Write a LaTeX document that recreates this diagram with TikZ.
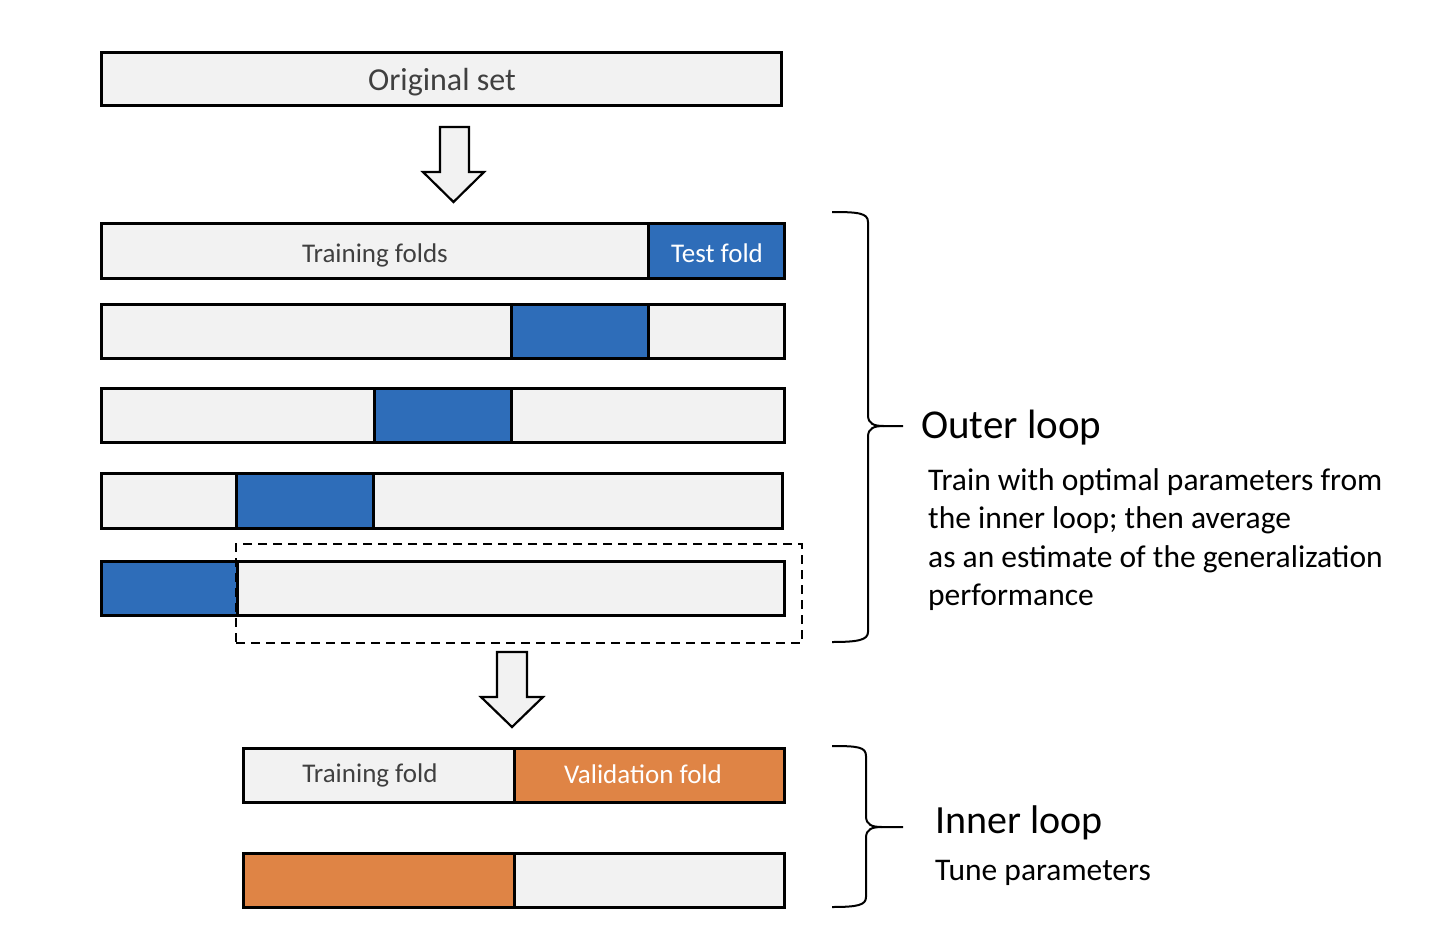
\documentclass[tikz,border=0pt]{standalone}
\usepackage{fontspec}
\setmainfont{Carlito}
\definecolor{lgray}{HTML}{F2F2F2}
\definecolor{fblue}{HTML}{2E6DB9}
\definecolor{forange}{HTML}{DF8445}
\definecolor{tgray}{HTML}{404040}
\begin{document}
\begin{tikzpicture}[x=1pt,y=-1pt,
  seg/.style={draw=black, line width=3pt, inner sep=0pt, outer sep=0pt, anchor=center},
  gseg/.style={seg, fill=lgray},
  bseg/.style={seg, fill=fblue},
  oseg/.style={seg, fill=forange},
  blockarrow/.style={draw=black, line width=2.2pt, fill=lgray, line join=miter},
  bracepath/.style={draw=black, line width=2pt},
  lbl/.style={inner sep=0pt, anchor=base west},
  foldlbl/.style={inner sep=0pt, anchor=base, font=\fontsize{27}{30}\selectfont}
]
\useasboundingbox (0,0) rectangle (1436,930);
\newcommand{\segbox}[6]{\node[#1, minimum width=#3-#2, minimum height=#5-#4] (#6) at ({(#2+#3)/2},{(#4+#5)/2}) {};}
% original set
\segbox{gseg}{101}{781}{52}{105}{orig}
\node[inner sep=0pt, anchor=base, text=tgray, font=\fontsize{32}{36}\selectfont] (origt) at (442,90) {Original set};
% arrow 1
\draw[blockarrow] (440,127) -- (469,127) -- (469,172) -- (484,172) -- (453.5,202) -- (423,172) -- (440,172) -- cycle;
% row 1
\segbox{gseg}{101}{648}{223}{278}{r1a}
\segbox{bseg}{648}{784}{223}{278}{r1b}
\node[foldlbl, text=tgray] (r1at) at (375,262) {Training folds};
\node[foldlbl, text=white] (r1bt) at (717,262) {Test fold};
% row 2
\segbox{gseg}{101}{511}{304}{358}{r2a}
\segbox{bseg}{511}{648}{304}{358}{r2b}
\segbox{gseg}{648}{784}{304}{358}{r2c}
% row 3
\segbox{gseg}{101}{374}{388}{442}{r3a}
\segbox{bseg}{374}{511}{388}{442}{r3b}
\segbox{gseg}{511}{784}{388}{442}{r3c}
% row 4
\segbox{gseg}{101}{236}{473}{528}{r4a}
\segbox{bseg}{236}{373}{473}{528}{r4b}
\segbox{gseg}{373}{782}{473}{528}{r4c}
% row 5
\segbox{bseg}{101}{237}{561}{615}{r5a}
\segbox{gseg}{237}{784}{561}{615}{r5b}
% dashed selection
\node[draw=black, line width=2.2pt, dash pattern=on 9pt off 6pt, minimum width=566, minimum height=99, inner sep=0pt] (sel) at (519,593.5) {};
% arrow 2
\draw[blockarrow] (497,652) -- (527,652) -- (527,697) -- (543,697) -- (512,727) -- (481,697) -- (497,697) -- cycle;
% inner rows
\segbox{gseg}{243}{514}{748}{802}{i1a}
\segbox{oseg}{514}{784}{748}{802}{i1b}
\node[foldlbl, text=tgray] (i1at) at (370,782) {Training fold};
\node[foldlbl, text=white] (i1bt) at (643,783) {Validation fold};
\segbox{oseg}{243}{514}{853}{907}{i2a}
\segbox{gseg}{514}{784}{853}{907}{i2b}
% outer brace
\draw[bracepath] (832,212) .. controls (858,212) and (868,213) .. (868,222) -- (868,415)
  .. controls (868,424) and (874,426) .. (884,426) -- (903,426);
\draw[bracepath] (884,426) .. controls (874,426) and (868,428) .. (868,437) -- (868,632)
  .. controls (868,640) and (858,642) .. (832,642);
% inner brace
\draw[bracepath] (832,746) .. controls (858,746) and (866,747) .. (866,756) -- (866,816)
  .. controls (866,825) and (872,827) .. (882,827) -- (903,827);
\draw[bracepath] (882,827) .. controls (872,827) and (866,829) .. (866,838) -- (866,897)
  .. controls (866,905) and (858,907) .. (832,907);
% texts
\node[lbl, font=\fontsize{41}{46}\selectfont] (outer) at (921,438) {Outer loop};
\node[lbl, font=\fontsize{31.5}{36}\selectfont] (p1) at (928,490) {Train with optimal parameters from};
\node[lbl, font=\fontsize{31.5}{36}\selectfont] (p2) at (928,528) {the inner loop; then average};
\node[lbl, font=\fontsize{31.5}{36}\selectfont] (p3) at (928,567) {as an estimate of the generalization};
\node[lbl, font=\fontsize{31.5}{36}\selectfont] (p4) at (928,605) {performance};
\node[lbl, font=\fontsize{40}{46}\selectfont] (inner) at (935,833) {Inner loop};
\node[lbl, font=\fontsize{31.5}{36}\selectfont] (tune) at (935,880) {Tune parameters};
\end{tikzpicture}
\end{document}
